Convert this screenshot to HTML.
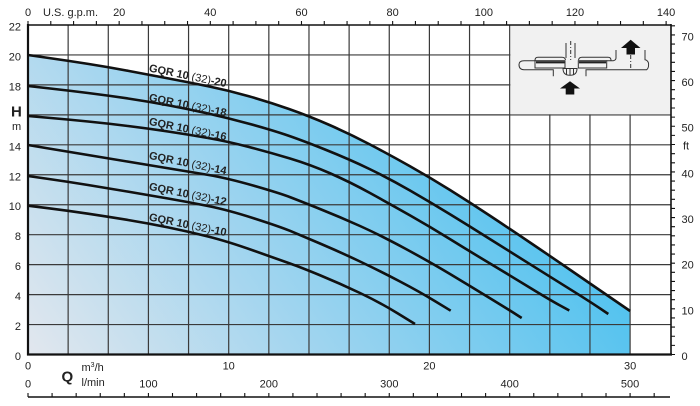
<!DOCTYPE html>
<html><head><meta charset="utf-8">
<style>
html,body{margin:0;padding:0;background:#fff;}
svg{display:block;}
text{font-family:"Liberation Sans",Arial,sans-serif;fill:#222;}
</style></head><body>
<svg width="700" height="406" viewBox="0 0 700 406" xmlns="http://www.w3.org/2000/svg">
<defs>
<linearGradient id="g" gradientUnits="userSpaceOnUse" x1="28" y1="354" x2="450" y2="60">
<stop offset="0" stop-color="#e2e7ee"/>
<stop offset="0.45" stop-color="#a2d5ef"/>
<stop offset="1" stop-color="#55c3ef"/>
</linearGradient>
</defs>

<!-- fill under GQR-20 -->
<path fill="url(#g)" d="M28,55 L48,57.85 Q68,60.7 88,63.85 Q108,67 128.35,70.85 Q148.7,74.7 168.7,78.5 Q188.7,82.3 208.7,86.4 Q228.7,90.5 248.85,96.25 Q269,102 289,109 Q309,116 329.5,125 Q350,134 370,144.5 Q390,155 410,166.25 Q430,177.5 450,190 Q470,202.5 490,215.75 Q510,229 530,242.5 Q550,256 570,269.75 Q590,283.5 610.05,297.25 L630.1,311 L630.1,354.5 L28,354.5 Z"/>

<!-- grid -->
<g stroke="#3a3a3a" stroke-width="1.2" fill="none">
<path d="M68.14 25V354.5M108.28 25V354.5M148.42 25V354.5M188.56 25V354.5M228.7 25V354.5M268.84 25V354.5M308.98 25V354.5M349.12 25V354.5M389.26 25V354.5M429.4 25V354.5M469.54 25V354.5M509.68 25V354.5M549.82 25V354.5M589.96 25V354.5M630.1 25V354.5"/>
<path d="M28 324.55H671M28 294.6H671M28 264.64H671M28 234.7H671M28 204.73H671M28 174.78H671M28 144.8H671M28 114.87H671M28 84.9H671M28 54.96H671"/>
</g>

<!-- inset box -->
<rect x="510.4" y="25" width="160.6" height="89.3" fill="#f1f1f1"/>
<g stroke="#333" stroke-width="1" fill="none">
<path d="M566 43V58M575 43V58"/>
<path d="M570.7 41V60" stroke-dasharray="4,2,1,2"/>
<path d="M535 60.5Q535 57.3 538 57.3H562Q565 57.3 565.5 60"/>
<path d="M578.5 60Q579 57.3 582 57.3H608Q611 57.3 611 60.5"/>
<rect x="535" y="60.7" width="30" height="7.3"/>
<rect x="578.3" y="60.7" width="28.4" height="7.3"/>
<path d="M535 60.7H524Q519 60.7 519 64.5Q519 69.7 524 69.7H553.3V76.3"/>
<path d="M586 76.3V69.7H646.7Q649 68 648.5 63Q647.5 60 645 59.7V50"/>
<path d="M606.7 60.7H613.5Q616 60 616 58V50"/>
<path d="M563 68.5Q563 75.3 570 75.3Q577 75.3 577 68.5Z"/>
<path d="M566.5 69V75M570 69V75.3M573.5 69V75"/>
<path d="M630.7 55V70" stroke-dasharray="4,2,1,2"/>
</g>
<g stroke="#222" stroke-width="2.2">
<path d="M536 62.3H564.5M579 62.3H606"/>
</g>
<polygon fill="#111" points="630.7,39.7 640.5,48 635,48 635,54.5 626.5,54.5 626.5,48 621,48"/>
<polygon fill="#111" points="570,81.3 580,88.5 574.3,88.5 574.3,94.5 565.7,94.5 565.7,88.5 560,88.5"/>

<!-- axes -->
<g stroke="#111" fill="none">
<path d="M28 25H671" stroke-width="1.6"/>
<path d="M671 24V355.5" stroke-width="1.6"/>
<path d="M28 24V355.5" stroke-width="2.2"/>
<path d="M27 354.5H672" stroke-width="2.2"/>
<path d="M28 397H670" stroke-width="1.6"/>
<path stroke-width="1.1" d="M28 21V25M50.79 21V25M73.58 21V25M96.37 21V25M119.16 21V25M141.95 21V25M164.74 21V25M187.53 21V25M210.32 21V25M233.11 21V25M255.9 21V25M278.69 21V25M301.48 21V25M324.27 21V25M347.06 21V25M369.85 21V25M392.64 21V25M415.43 21V25M438.22 21V25M461.01 21V25M483.8 21V25M506.59 21V25M529.38 21V25M552.17 21V25M574.96 21V25M597.75 21V25M620.54 21V25M643.33 21V25M666.12 21V25"/>
<path stroke-width="1.1" d="M28 393V397M52.08 393V397M76.17 393V397M100.25 393V397M124.34 393V397M148.42 393V397M172.5 393V397M196.59 393V397M220.67 393V397M244.76 393V397M268.84 393V397M292.92 393V397M317.01 393V397M341.09 393V397M365.18 393V397M389.26 393V397M413.34 393V397M437.43 393V397M461.51 393V397M485.6 393V397M509.68 393V397M533.76 393V397M557.85 393V397M581.93 393V397M606.02 393V397M630.1 393V397M654.18 393V397"/>
<path stroke-width="1.1" d="M671 354.5H675M671 345.37H675M671 336.24H675M671 327.11H675M671 317.98H675M671 308.85H675M671 299.72H675M671 290.59H675M671 281.46H675M671 272.33H675M671 263.2H675M671 254.07H675M671 244.94H675M671 235.81H675M671 226.68H675M671 217.55H675M671 208.42H675M671 199.29H675M671 190.16H675M671 181.03H675M671 171.9H675M671 162.77H675M671 153.64H675M671 144.51H675M671 135.38H675M671 126.25H675M671 117.12H675M671 107.99H675M671 98.86H675M671 89.73H675M671 80.6H675M671 71.47H675M671 62.34H675M671 53.21H675M671 44.08H675M671 34.95H675M671 25.82H675"/>
</g>

<!-- curves -->
<g stroke="#111" stroke-width="2.6" fill="none" stroke-linejoin="round">
<path d="M28,55 L48,57.85 Q68,60.7 88,63.85 Q108,67 128.35,70.85 Q148.7,74.7 168.7,78.5 Q188.7,82.3 208.7,86.4 Q228.7,90.5 248.85,96.25 Q269,102 289,109 Q309,116 329.5,125 Q350,134 370,144.5 Q390,155 410,166.25 Q430,177.5 450,190 Q470,202.5 490,215.75 Q510,229 530,242.5 Q550,256 570,269.75 Q590,283.5 610.05,297.25 L630.1,311"/>
<path d="M28,86 L48,88.25 Q68,90.5 88,93 Q108,95.5 128,98.5 Q148,101.5 168,105.25 Q188,109 208,113.5 Q228,118 249,123.75 Q270,129.5 285,134.5 Q300,139.5 325,149.5 Q350,159.5 370,169.25 Q390,179 410,190.5 Q430,202 450,214.25 Q470,226.5 490,239.1 Q510,251.7 530,264.2 Q550,276.7 570,289.2 Q590,301.7 599.15,307.85 L608.3,314"/>
<path d="M28,116 L48,117.75 Q68,119.5 88,121.5 Q108,123.5 128,126 Q148,128.5 168,131.5 Q188,134.5 208,138 Q228,141.5 249,147 Q270,152.5 290,158.5 Q310,164.5 330,173.25 Q350,182 370,193 Q390,204 410,215.35 Q430,226.7 450,239.1 Q470,251.5 490,263.5 Q510,275.5 530,287.75 Q550,300 559.65,305.25 L569.3,310.5"/>
<path d="M28,145 L48,148.35 Q68,151.7 88,155 Q108,158.3 128,161.65 Q148,165 168,168.25 Q188,171.5 208,174.9 Q228,178.3 254,185.8 Q280,193.3 290,197.15 Q300,201 320,209 Q340,217 360,226 Q380,235 405,248.5 Q430,262 450,274 Q470,286 490,298.25 Q510,310.5 515.85,314.25 L521.7,318"/>
<path d="M28,176 L48,178.85 Q68,181.7 88,185 Q108,188.3 128,191.65 Q148,195 168,198.5 Q188,202 208,206 Q228,210 254,218.35 Q280,226.7 290,230.85 Q300,235 320,243.5 Q340,252 360,261.5 Q380,271 400,281.5 Q420,292 435.35,301.35 L450.7,310.7"/>
<path d="M28,205.7 L48,208.2 Q68,210.7 88,213.7 Q108,216.7 128,220 Q148,223.3 168,227.4 Q188,231.5 208,236.5 Q228,241.5 254,250.75 Q280,260 290,263.5 Q300,267 320,275.25 Q340,283.5 360,293 Q380,302.5 397.5,313.25 L415,324"/>
</g>

<!-- curve labels -->
<g font-size="11" font-weight="bold">
<text transform="translate(148.5,71.4) rotate(11.5)">GQR 10 <tspan font-weight="normal">(32)</tspan>-20</text>
<text transform="translate(148.5,100.8) rotate(11.5)">GQR 10 <tspan font-weight="normal">(32)</tspan>-18</text>
<text transform="translate(148.5,124.8) rotate(11.5)">GQR 10 <tspan font-weight="normal">(32)</tspan>-16</text>
<text transform="translate(148.5,158.8) rotate(11.5)">GQR 10 <tspan font-weight="normal">(32)</tspan>-14</text>
<text transform="translate(148.5,189.8) rotate(11.5)">GQR 10 <tspan font-weight="normal">(32)</tspan>-12</text>
<text transform="translate(148.5,220.4) rotate(11.5)">GQR 10 <tspan font-weight="normal">(32)</tspan>-10</text>
</g>

<!-- left labels -->
<g font-size="11" text-anchor="end">
<text x="21" y="30.5">22</text>
<text x="21" y="60.5">20</text>
<text x="21" y="90.4">18</text>
<text x="21" y="150.3">14</text>
<text x="21" y="180.3">12</text>
<text x="21" y="210.2">10</text>
<text x="21" y="240.2">8</text>
<text x="21" y="270.1">6</text>
<text x="21" y="300.1">4</text>
<text x="21" y="330">2</text>
<text x="21" y="360">0</text>
</g>
<text x="11" y="116.7" font-size="15" font-weight="bold">H</text>
<text x="12" y="130" font-size="11">m</text>

<!-- top labels -->
<g font-size="11" text-anchor="middle">
<text x="28" y="16">0</text>
<text x="119.2" y="16">20</text>
<text x="210.3" y="16">40</text>
<text x="301.5" y="16">60</text>
<text x="392.6" y="16">80</text>
<text x="483.8" y="16">100</text>
<text x="575" y="16">120</text>
<text x="666.1" y="16">140</text>
</g>
<text x="43" y="16" font-size="11">U.S. g.p.m.</text>

<!-- right labels -->
<g font-size="11">
<text x="681.5" y="360">0</text>
<text x="681.5" y="314.3">10</text>
<text x="681.5" y="268.7">20</text>
<text x="681.5" y="223">30</text>
<text x="681.5" y="177.4">40</text>
<text x="681.5" y="131.7">50</text>
<text x="681.5" y="86.1">60</text>
<text x="681.5" y="40.4">70</text>
<text x="683" y="149.5">ft</text>
</g>

<!-- bottom labels -->
<g font-size="11" text-anchor="middle">
<text x="28" y="369.5">0</text>
<text x="228.7" y="369.5">10</text>
<text x="429.4" y="369.5">20</text>
<text x="630.1" y="369.5">30</text>
<text x="28" y="387.5">0</text>
<text x="148.4" y="387.5">100</text>
<text x="268.8" y="387.5">200</text>
<text x="389.3" y="387.5">300</text>
<text x="509.7" y="387.5">400</text>
<text x="630.1" y="387.5">500</text>
</g>
<text x="61.5" y="381.5" font-size="15" font-weight="bold">Q</text>
<text x="81.5" y="371" font-size="11">m<tspan font-size="7" dy="-4">3</tspan><tspan dy="4">/h</tspan></text>
<text x="81.5" y="386" font-size="11">l/min</text>
</svg>
</body></html>
